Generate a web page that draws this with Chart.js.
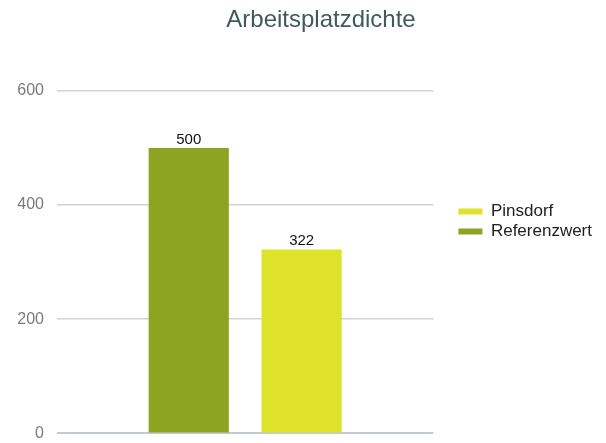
<!DOCTYPE html>
<html>
<head>
<meta charset="utf-8">
<script src="https://cdn.jsdelivr.net/npm/chart.js@4"></script>
<style>
  html, body { margin: 0; padding: 0; background: #fff; }
  #wrap { width: 606px; height: 443px; }
</style>
</head>
<body>
<div id="wrap"><canvas id="myChart" width="606" height="443"></canvas></div>
<script>
const ctx = document.getElementById('myChart').getContext('2d');

// Data
const chartTitle = 'Arbeitsplatzdichte';
const categories = [''];
const seriesNames = ['Referenzwert', 'Pinsdorf'];
const referenzwert = [500];
const pinsdorf = [322];
const yTicks = [0, 200, 400, 600];
const seriesColors = ['#8da423', '#dfe22b'];

const font = 'Liberation Sans, Arial, sans-serif';

// the original title sits a little right of the canvas middle
const shiftTitle = {
    id: 'shiftTitle',
    afterLayout(chart) {
        if (chart.titleBlock) chart.titleBlock.left += 40;
    }
};

// value labels on top of each bar
const valueLabels = {
    id: 'valueLabels',
    afterDatasetsDraw(chart) {
        const c = chart.ctx;
        c.save();
        c.font = '15px ' + font;
        c.fillStyle = '#111';
        c.textAlign = 'center';
        c.textBaseline = 'bottom';
        chart.data.datasets.forEach((ds, i) => {
            chart.getDatasetMeta(i).data.forEach((bar, j) => {
                c.fillText(ds.data[j], bar.x, bar.y - 1);
            });
        });
        c.restore();
    }
};

const data = {
    labels: categories,
    datasets: [
        {
            label: seriesNames[0],
            data: referenzwert,
            backgroundColor: seriesColors[0],
            categoryPercentage: 0.6,
            barPercentage: 0.71
        },
        {
            label: seriesNames[1],
            data: pinsdorf,
            backgroundColor: seriesColors[1],
            categoryPercentage: 0.6,
            barPercentage: 0.71
        }
    ]
};

const config = {
    type: 'bar',
    data: data,
    options: {
        responsive: false,
        animation: false,
        layout: {
            padding: { top: 8, bottom: 8, left: 0, right: 4 }
        },
        scales: {
            x: {
                display: false
            },
            y: {
                min: 0,
                max: 600,
                afterBuildTicks: (axis) => {
                    axis.ticks = yTicks.map(v => ({ value: v }));
                },
                afterFit: (axis) => { axis.width = 57; },
                grid: {
                    color: (c) => c.tick && c.tick.value === 0 ? '#c3cad6' : '#d2d2d2',
                    lineWidth: (c) => c.tick && c.tick.value === 0 ? 2 : 1.5,
                    drawTicks: true,
                    tickLength: 13,
                    tickColor: 'rgba(0,0,0,0)'
                },
                border: { display: false },
                ticks: {
                    padding: 0,
                    color: '#7a7a7a',
                    font: { family: font, size: 16 }
                }
            },
            // empty strip between plot and legend
            gap: {
                position: 'right',
                grid: { display: false },
                border: { display: false },
                ticks: { display: false },
                afterFit: (axis) => { axis.width = 22; }
            }
        },
        plugins: {
            title: {
                display: true,
                text: chartTitle,
                color: '#3f5b57',
                font: { family: font, size: 24, weight: 'normal' },
                padding: { top: -2, bottom: 56 }
            },
            tooltip: { enabled: false },
            legend: {
                position: 'right',
                reverse: true,
                maxWidth: 200,
                labels: {
                    boxWidth: 24,
                    boxHeight: 6,
                    padding: 3,
                    color: '#222',
                    font: { family: font, size: 17, lineHeight: 1 }
                }
            }
        }
    },
    plugins: [shiftTitle, valueLabels]
};

let myChart = new Chart(ctx, config);
</script>
</body>
</html>
